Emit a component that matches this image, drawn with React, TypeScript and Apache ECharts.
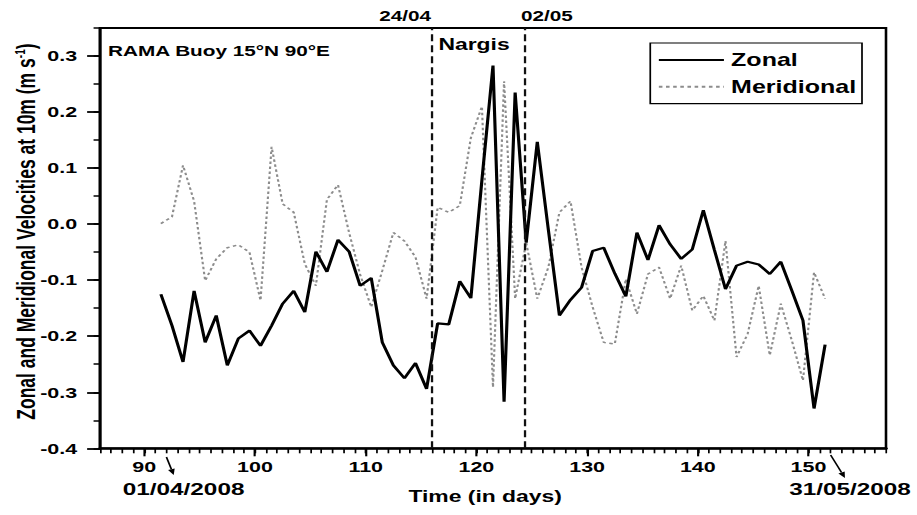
import React, { useEffect, useRef } from "react";
import * as echarts from "echarts";

// ---- data ----
const days = [
  91.5, 92.5, 93.5, 94.5, 95.5, 96.5, 97.5, 98.5, 99.5, 100.5,
  101.5, 102.5, 103.5, 104.5, 105.5, 106.5, 107.5, 108.5, 109.5, 110.5,
  111.5, 112.5, 113.5, 114.5, 115.5, 116.5, 117.5, 118.5, 119.5, 120.5,
  121.5, 122.5, 123.5, 124.5, 125.5, 126.5, 127.5, 128.5, 129.5, 130.5,
  131.5, 132.5, 133.5, 134.5, 135.5, 136.5, 137.5, 138.5, 139.5, 140.5,
  141.5, 142.5, 143.5, 144.5, 145.5, 146.5, 147.5, 148.5, 149.5, 150.5,
  151.5,
];
const zonal = [
  -0.125, -0.181, -0.246, -0.119, -0.211, -0.163, -0.252, -0.204, -0.19, -0.217,
  -0.181, -0.142, -0.119, -0.157, -0.049, -0.085, -0.028, -0.049, -0.11, -0.096,
  -0.211, -0.252, -0.275, -0.248, -0.294, -0.177, -0.179, -0.102, -0.132, 0.079,
  0.283, -0.317, 0.235, -0.033, 0.147, -0.01, -0.163, -0.135, -0.113, -0.048,
  -0.042, -0.088, -0.129, -0.015, -0.064, -0.002, -0.036, -0.062, -0.045, 0.025,
  -0.046, -0.116, -0.074, -0.067, -0.072, -0.089, -0.067, -0.119, -0.172, -0.329,
  -0.215,
];
const meridional = [
  0.001, 0.013, 0.105, 0.041, -0.101, -0.062, -0.042, -0.037, -0.05, -0.136,
  0.138, 0.036, 0.021, -0.071, -0.11, 0.044, 0.07, -0.015, -0.09, -0.148,
  -0.083, -0.015, -0.03, -0.059, -0.133, 0.03, 0.021, 0.033, 0.154, 0.21,
  -0.291, 0.255, -0.133, -0.033, -0.133, -0.077, 0.021, 0.041, -0.077, -0.148,
  -0.211, -0.214, -0.098, -0.16, -0.089, -0.077, -0.133, -0.074, -0.154, -0.128,
  -0.172, -0.03, -0.237, -0.196, -0.11, -0.234, -0.142, -0.208, -0.279, -0.086,
  -0.133,
];
const xLabelValues = [90, 100, 110, 120, 130, 140, 150];
const yTickValues = [-0.4, -0.3, -0.2, -0.1, 0, 0.1, 0.2, 0.3];
const eventDays = [116, 124.3];
const eventLabels = ["24/04", "02/05"];
const dateMarkDays = [92, 152];
const dateMarkLabels = ["01/04/2008", "31/05/2008"];

// the reference picture is horizontally stretched; reproduce that
const FULL_W = 917;
const H = 515;
const CW = 641;
const SX = FULL_W / CW;

export default function App() {
  const ref = useRef<HTMLDivElement>(null);

  useEffect(() => {
    const el = ref.current;
    if (!el) return;
    const chart = echarts.init(el, null, { renderer: "svg" });
    const font = '"Liberation Sans", Arial, Helvetica, sans-serif';
    const black = "#000";

    const option: any = {
      animation: false,
      backgroundColor: "#fff",
      textStyle: { fontFamily: font, fontWeight: "bold", color: black },
      grid: {
        left: 100 / SX,
        right: 31 / SX,
        top: 28,
        bottom: 66.7,
        show: true,
        borderColor: black,
        borderWidth: 1.8,
        containLabel: false,
        outerBoundsMode: "none",
      },
      legend: {
        data: ["Zonal", "Meridional"],
        orient: "vertical",
        right: 55 / SX,
        top: 43,
        itemWidth: 45.5,
        itemHeight: 14,
        itemGap: 8.7,
        padding: [8, 4, 8, 5],
        borderColor: black,
        borderWidth: 1.2,
        textStyle: {
          fontSize: 17.5,
          fontWeight: "bold",
          fontFamily: font,
          color: black,
          lineHeight: 14,
        },
      },
      xAxis: [
        {
          type: "value",
          position: "bottom",
          min: 86,
          max: 157,
          interval: 1,
          axisLine: { show: true, onZero: false, lineStyle: { color: black, width: 2.5 } },
          axisTick: { show: true, length: 5, lineStyle: { color: black, width: 1.2 } },
          axisLabel: { show: false },
          splitLine: { show: false },
        },
        {
          type: "value",
          position: "bottom",
          min: 86,
          max: 157,
          axisLine: { show: false, onZero: false },
          axisTick: {
            show: true,
            length: 8,
            customValues: xLabelValues,
            lineStyle: { color: black, width: 1.5 },
          },
          axisLabel: {
            show: true,
            customValues: xLabelValues,
            margin: 11,
            fontSize: 15,
            fontWeight: "bold",
            fontFamily: font,
            color: black,
          },
          splitLine: { show: false },
          name: "Time (in days)",
          nameLocation: "middle",
          nameGap: 40,
          nameTextStyle: {
            fontSize: 16,
            fontWeight: "bold",
            fontFamily: font,
            color: black,
            padding: [0, 11, 0, 0],
          },
        },
      ],
      yAxis: [
        {
          type: "value",
          position: "left",
          min: -0.4,
          max: 0.35,
          interval: 0.05,
          axisLine: { show: true, onZero: false, lineStyle: { color: black, width: 2 } },
          axisTick: { show: true, length: 4.5, lineStyle: { color: black, width: 1.5 } },
          axisLabel: { show: false },
          splitLine: { show: false },
        },
        {
          type: "value",
          position: "left",
          min: -0.4,
          max: 0.35,
          axisLine: { show: false, onZero: false },
          axisTick: {
            show: true,
            length: 9,
            customValues: yTickValues,
            lineStyle: { color: black, width: 1.8 },
          },
          axisLabel: {
            show: true,
            customValues: yTickValues,
            margin: 16,
            fontSize: 15,
            fontWeight: "bold",
            fontFamily: font,
            color: black,
            formatter: (v: number) => v.toFixed(1),
          },
          splitLine: { show: false },
          name: "Zonal and Meridional Velocities at 10m (m s{sup|-1})",
          nameLocation: "middle",
          nameGap: 42.5,
          nameMoveOverlap: false,
          nameTextStyle: {
            fontSize: 17.5,
            fontWeight: "bold",
            fontFamily: font,
            color: black,
            padding: [0, 0, 0, 13],
            rich: {
              sup: {
                fontSize: 10,
                fontWeight: "bold",
                fontFamily: font,
                color: black,
                verticalAlign: "top",
              },
            },
          },
        },
      ],
      series: [
        {
          name: "Meridional",
          type: "line",
          xAxisIndex: 0,
          yAxisIndex: 0,
          data: days.map((d, i) => [d, meridional[i]]),
          symbol: "none",
          color: "#8c8c8c",
          itemStyle: { opacity: 0 },
          lineStyle: { color: "#8c8c8c", width: 1.5, type: [2.5, 2.5] },
          z: 2,
        },
        {
          name: "Zonal",
          type: "line",
          xAxisIndex: 0,
          yAxisIndex: 0,
          data: days.map((d, i) => [d, zonal[i]]),
          symbol: "none",
          color: black,
          itemStyle: { opacity: 0 },
          lineStyle: { color: black, width: 2.2 },
          z: 3,
          markLine: {
            silent: true,
            symbol: ["none", "none"],
            label: { show: false },
            lineStyle: { color: "#111", width: 1.6, type: [7, 4], opacity: 1 },
            itemStyle: { opacity: 1 },
            data: eventDays.map((d) => ({ xAxis: d })),
          },
        },
      ],
    };
    chart.setOption(option);

    const px = (d: number) => chart.convertToPixel({ xAxisIndex: 0 }, d) as number;
    const txt = (text: string, x: number, y: number, size: number, align: string) => ({
      type: "text",
      x,
      y,
      silent: true,
      style: {
        text,
        fontSize: size,
        fontWeight: "bold",
        fontFamily: font,
        fill: black,
        align,
        verticalAlign: "middle",
      },
    });
    const arrow = (x0: number, y0: number, x1: number, y1: number) => {
      const dx = x1 - x0;
      const dy = y1 - y0;
      const L = Math.hypot(dx, dy);
      const ux = dx / L;
      const uy = dy / L;
      const hl = 6;
      const hw = 2.4;
      const bx = x1 - ux * hl;
      const by = y1 - uy * hl;
      return [
        {
          type: "line",
          silent: true,
          shape: { x1: x0, y1: y0, x2: bx, y2: by },
          style: { stroke: black, lineWidth: 1.2 },
        },
        {
          type: "polygon",
          silent: true,
          shape: {
            points: [
              [x1, y1],
              [bx - uy * hw, by + ux * hw],
              [bx + uy * hw, by - ux * hw],
            ],
          },
          style: { fill: black },
        },
      ];
    };

    const e0 = px(eventDays[0]);
    const e1 = px(eventDays[1]);
    const a0 = px(dateMarkDays[0]);
    const a1 = px(dateMarkDays[1]);
    const graphics: any[] = [
      txt(eventLabels[0], e0 - 0.7, 16, 14.5, "right"),
      txt(eventLabels[1], e1 - 2.1, 16, 14.5, "left"),
      txt("Nargis", e0 + 4.4, 44, 16, "left"),
      txt("RAMA Buoy 15°N 90°E", 108 / SX, 51, 14.5, "left"),
      txt(dateMarkLabels[0], a0 + 12, 488.5, 17, "center"),
      txt(dateMarkLabels[1], a1 + 13.5, 488.5, 17, "center"),
      ...arrow(a0, 457, a0 + 7.3 / SX, 475),
      ...arrow(a1, 455, a1 + 14.3 / SX, 478),
    ];
    chart.setOption({ graphic: graphics });

    return () => {
      chart.dispose();
    };
  }, []);

  return (
    <div
      style={{
        position: "absolute",
        left: 0,
        top: 0,
        width: FULL_W,
        height: H,
        overflow: "hidden",
        background: "#fff",
      }}
    >
      <div
        ref={ref}
        style={{
          width: CW,
          height: H,
          transform: `scaleX(${SX})`,
          transformOrigin: "0 0",
        }}
      />
    </div>
  );
}
